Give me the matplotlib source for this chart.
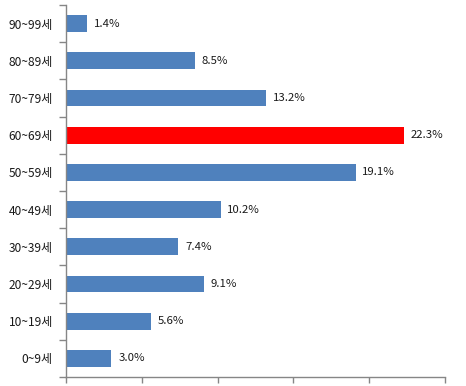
import matplotlib
matplotlib.use("Agg")
import matplotlib.pyplot as plt

# data (top to bottom as shown)
ages = ["90~99세", "80~89세", "70~79세", "60~69세", "50~59세",
        "40~49세", "30~39세", "20~29세", "10~19세", "0~9세"]
shares = [1.4, 8.5, 13.2, 22.3, 19.1, 10.2, 7.4, 9.1, 5.6, 3.0]
highlight = "60~69세"

plt.rcParams["font.family"] = ["Noto Sans CJK KR", "DejaVu Sans"]

fig = plt.figure(figsize=(4.66, 3.86), dpi=100)
ax = fig.add_axes([66 / 466, 9 / 386, 379 / 466, 372 / 386])

n = len(ages)
ys = [n - 1 - i for i in range(n)]
colors = ["#FF0000" if a == highlight else "#4F81BD" for a in ages]
ax.barh(ys, shares, height=0.45, color=colors)

for y, v in zip(ys, shares):
    ax.text(v + 0.45, y, "%.1f%%" % v, va="center", ha="left", fontsize=8.2, color="#1a1a1a")

ax.set_xlim(0, 25)
ax.set_ylim(-0.5, n - 0.5)
ax.set_xticks(range(0, 26, 5))
ax.set_xticklabels([])
ax.set_yticks(ys)
ax.set_yticklabels(ages, fontsize=8.6, color="#1a1a1a")
ax.set_yticks([i - 0.5 for i in range(n + 1)], minor=True)
ax.tick_params(axis="y", which="major", length=0, pad=9.5)
ax.tick_params(axis="y", which="minor", length=5, width=1, color="#868686")
ax.tick_params(axis="x", length=4, width=1, color="#868686")
for s in ("top", "right"):
    ax.spines[s].set_visible(False)
for s in ("left", "bottom"):
    ax.spines[s].set_color("#868686")
    ax.spines[s].set_linewidth(1)

fig.savefig("out.png", dpi=100, facecolor="white")
